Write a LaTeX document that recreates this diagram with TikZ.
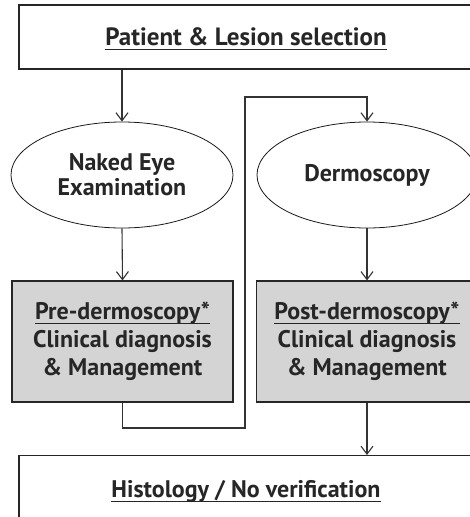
\documentclass[tikz,border=0pt]{standalone}
\usepackage{fontspec}
\setmainfont{PT Sans}
\newcommand{\undl}[1]{\leavevmode\setbox0=\hbox{#1}\rlap{\copy0}\smash{\rule[-4.5pt]{\wd0}{1.5pt}}}
\usetikzlibrary{shapes.geometric, arrows.meta}

\begin{document}
\begin{tikzpicture}[x=1pt, y=-1pt,
    txt/.style={font=\bfseries\fontsize{24}{28}\selectfont, text=black!85, align=center},
    wbox/.style={txt, draw=black!85, line width=1.1pt, fill=white, minimum width=454, inner sep=0},
    gbox/.style={txt, draw=black!85, line width=1.1pt, fill=black!17, minimum width=221, minimum height=121, inner sep=0},
    oval/.style={txt, font=\bfseries\fontsize{24}{25}\selectfont, ellipse, draw=black!90, line width=0.8pt, minimum height=106, inner sep=0},
    arr/.style={draw=black!80, line width=1.1pt, -{Straight Barb[length=8pt, width=12pt]}}]
    \useasboundingbox (0,0) rectangle (470,517);
    \clip (0,0) rectangle (470,517);
    \node[wbox, minimum height=64, font=\bfseries\fontsize{25}{27}\selectfont] (sel) at (246,37) {\undl{Patient \& Lesion selection}};
    \node[oval, minimum width=222] (eye) at (122,175) {Naked Eye\\Examination};
    \node[oval, minimum width=220] (derm) at (367,175) {Dermoscopy};
    \node[gbox] (pre) at (122.5,341.5) {\undl{Pre-dermoscopy*}\\Clinical diagnosis\\\& Management};
    \node[gbox] (post) at (367,341.5) {\undl{Post-dermoscopy*}\\Clinical diagnosis\\\& Management};
    \node[wbox, anchor=north, text height=42pt, text depth=40pt] (hist) at (246,455) {\undl{Histology / No verification}};
    \coordinate (lo) at (245,428);
    \coordinate (hi) at (245,97);
    \draw[arr] (sel.south -| eye.north) -- (eye.north);
    \draw[arr] (eye.south) -- (pre.north);
    \draw[arr] (pre.south) |- (lo) -- (hi) -| (derm.north);
    \draw[arr] (derm.south) -- (post.north);
    \draw[arr] (post.south) -- (post.south |- hist.north);
\end{tikzpicture}
\end{document}
